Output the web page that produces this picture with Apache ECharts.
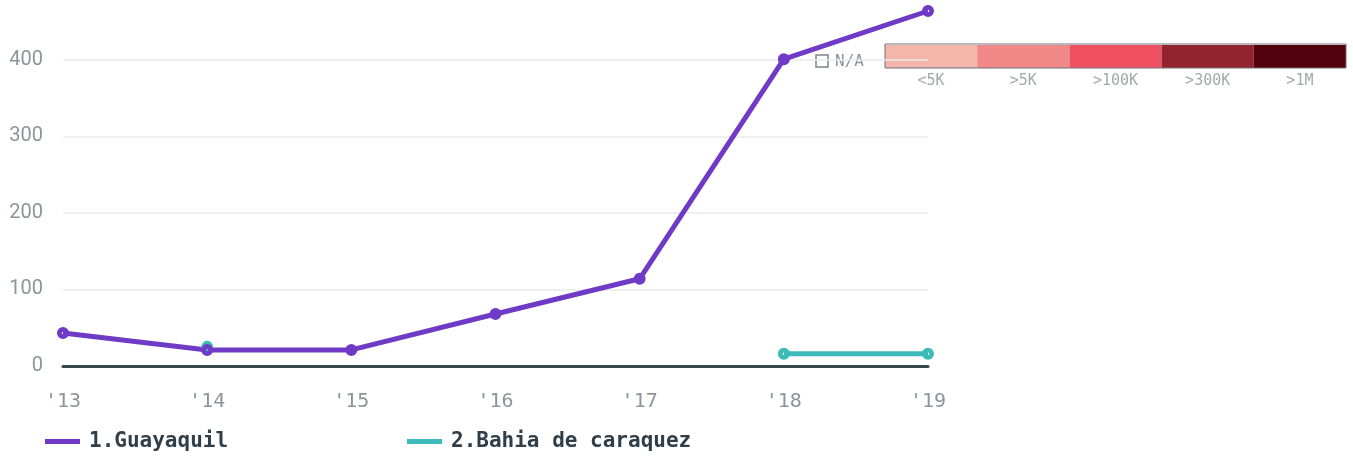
<!DOCTYPE html>
<html>
<head>
<meta charset="utf-8">
<script src="https://cdn.jsdelivr.net/npm/echarts@6/dist/echarts.min.js"></script>
<style>
  html, body { margin: 0; padding: 0; background: #fff; }
  #chart { width: 1353px; height: 459px; }
</style>
</head>
<body>
<div id="chart"></div>
<script>
var years = ["'13", "'14", "'15", "'16", "'17", "'18", "'19"];
var guayaquil = [43, 21, 21, 68, 114, 401, 464];
var bahia = [null, 25, null, null, null, 16, 16];
var seriesNames = ['1.Guayaquil', '2.Bahia de caraquez'];
var seriesColors = ['#6f3bc6', '#3dbaba'];

// colour scale key (top right)
var scaleLabels = ['<5K', '>5K', '>100K', '>300K', '>1M'];
var scaleColors = ['#f4b6ab', '#f08887', '#ef5062', '#93232f', '#52000c'];

// ring marker: filled disc with a tiny hole
var ringSymbol = 'path://M0,-6A6,6,0,1,1,0,6A6,6,0,1,1,0,-6ZM0,-1.2A1.2,1.2,0,1,0,0,1.2A1.2,1.2,0,1,0,0,-1.2Z';

var myChart = echarts.init(document.getElementById('chart'));

var scaleGraphics = [];
var bx = 885, bw = 92.2;
scaleColors.forEach(function (c, i) {
    scaleGraphics.push({
        type: 'rect',
        shape: {x: bx + i * bw, y: 45, width: bw, height: 23},
        style: {fill: c}
    });
    scaleGraphics.push({
        type: 'text',
        x: bx + i * bw + bw / 2,
        y: 81,
        style: {
            text: scaleLabels[i], fill: '#a3a8ac', font: '15px "DejaVu Sans Mono"',
            align: 'center', verticalAlign: 'middle'
        }
    });
});
scaleGraphics.push({
    type: 'rect',
    shape: {x: bx, y: 44, width: bw * 5, height: 24},
    style: {fill: 'none', stroke: '#6e7378', lineWidth: 1}
});
scaleGraphics.push({
    type: 'rect',
    shape: {x: 816, y: 55, width: 12, height: 12},
    style: {fill: '#fff', stroke: '#7d8388', lineWidth: 1.5}
});
scaleGraphics.push({
    type: 'text', x: 835, y: 62,
    style: {text: 'N/A', fill: '#8d949a', font: '16px "DejaVu Sans Mono"', verticalAlign: 'middle'}
});

function lineSeries(name, data, color) {
    return {
        name: name,
        type: 'line',
        data: data,
        symbol: ringSymbol,
        symbolSize: 12,
        connectNulls: false,
        lineStyle: {color: color, width: 5},
        itemStyle: {color: color, borderWidth: 0},
        emphasis: {disabled: true}
    };
}

var legendText = {color: '#2f3e48', fontSize: 21, fontWeight: 'bold', fontFamily: 'DejaVu Sans Mono', padding: [0, 0, 0, 4]};

myChart.setOption({
    animation: false,
    grid: {left: 63, right: 425, top: 11, bottom: 93},
    xAxis: {
        type: 'category',
        data: years,
        boundaryGap: false,
        axisTick: {show: false},
        axisLine: {show: true, lineStyle: {color: '#37474f', width: 3}},
        axisLabel: {color: '#8d959b', fontSize: 20, fontFamily: 'DejaVu Sans Mono', margin: 26}
    },
    yAxis: {
        type: 'value',
        min: 0,
        max: 'dataMax',
        interval: 100,
        axisLine: {show: false},
        axisTick: {show: false},
        splitLine: {showMaxLine: false, lineStyle: {color: '#e8eaeb', width: 1.5}},
        axisLabel: {showMaxLabel: false, color: '#8d959b', fontSize: 20, fontFamily: 'Roboto', margin: 20}
    },
    legend: [
        {
            data: [seriesNames[0]], left: 45, top: 431, padding: 0,
            itemWidth: 35, itemHeight: 5, icon: 'rect', selectedMode: false,
            textStyle: legendText
        },
        {
            data: [seriesNames[1]], left: 407, top: 431, padding: 0,
            itemWidth: 35, itemHeight: 5, icon: 'rect', selectedMode: false,
            textStyle: legendText
        }
    ],
    graphic: scaleGraphics,
    series: [
        lineSeries(seriesNames[1], bahia, seriesColors[1]),
        lineSeries(seriesNames[0], guayaquil, seriesColors[0])
    ]
});
</script>
</body>
</html>
